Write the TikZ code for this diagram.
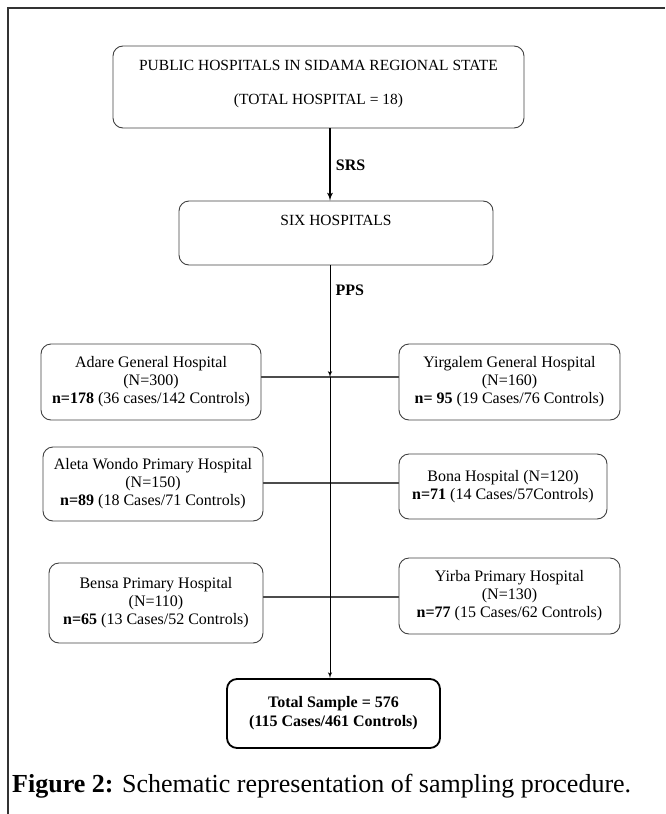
\documentclass[tikz,border=0pt]{standalone}
\usepackage{fontspec}
\setmainfont{Liberation Serif}
\usetikzlibrary{shapes,arrows,positioning}

\begin{document}
\begin{tikzpicture}[auto,>=latex',x=1pt,y=-1pt]
    \tikzstyle{block} = [draw=black!75, shape=rectangle, rounded corners=10pt, line width=0.9pt, align=center, inner sep=0pt, font=\fontsize{16}{18}\selectfont]
    \tikzstyle{method} = [font=\fontsize{16}{18}\selectfont\bfseries, inner sep=5pt]
    \tikzstyle{tie} = [draw=black!70, line width=1.3pt]
    \useasboundingbox (0,0) rectangle (665,814);
    \draw[line width=1.2pt, black!80] (8,814) -- (8,8) -- (665,8);
    %Creating Blocks and Connection Nodes
    \node [block, minimum width=411, minimum height=82, text depth=10pt, font=\fontsize{15.5}{18}\selectfont] (public) at (318.5,87) {PUBLIC HOSPITALS IN SIDAMA REGIONAL STATE\\[16pt] (TOTAL HOSPITAL = 18)};
    \node [block, minimum width=314, minimum height=64, text depth=26pt, font=\fontsize{15.5}{18}\selectfont] (six) at (336,233) {SIX HOSPITALS};
    \coordinate (spine) at (330,0);

    \node [block, minimum width=220, minimum height=76] (adare) at (151,382) {Adare General Hospital\\ (N=300)\\ \textbf{n=178} (36 cases/142 Controls)};
    \node [block, minimum width=221, minimum height=76] (yirgalem) at (509.5,382) {Yirgalem General Hospital\\ (N=160)\\ \textbf{n= 95} (19 Cases/76 Controls)};

    \node [block, minimum width=220, minimum height=74] (aleta) at (153,484) {Aleta Wondo Primary Hospital\\ (N=150)\\ \textbf{n=89} (18 Cases/71 Controls)};
    \node [block, minimum width=208, minimum height=65] (bona) at (503,486.5) {Bona Hospital (N=120)\\ \textbf{n=71} (14 Cases/57Controls)};

    \node [block, minimum width=214, minimum height=80] (bensa) at (156,603) {Bensa Primary Hospital\\ (N=110)\\ \textbf{n=65} (13 Cases/52 Controls)};
    \node [block, minimum width=221, minimum height=76] (yirba) at (509.5,596) {Yirba Primary Hospital\\ (N=130)\\ \textbf{n=77} (15 Cases/62 Controls)};

    \node [block, minimum width=213, minimum height=69, draw=black, line width=1.8pt, font=\fontsize{16}{19}\selectfont\bfseries] (total) at (333.5,713.5) {Total Sample = 576\\ (115 Cases/461 Controls)};

    \node [anchor=base west, inner sep=0pt, font=\fontsize{26}{30}\selectfont] (caption) at (12,792) {\textbf{Figure 2:} Schematic representation of sampling procedure.};
    %Conecting Blocks
    \draw[tie] (adare.east |- 0,377) -- (yirgalem.west |- 0,377);
    \draw[tie] (aleta.east |- 0,483) -- (bona.west |- 0,483);
    \draw[tie] (bensa.east |- 0,597) -- (yirba.west |- 0,597);
    \begin{scope}[line width=1pt]
        \draw[->, line width=1.7pt] (public.south -| spine) -- node[method, right, pos=0.51] {SRS} (six.north -| spine);
        \draw[->] (six.south -| spine) -- node[method, right, pos=0.22] {PPS} (0,377 -| spine);
        \draw[->] (0,377 -| spine) -- (total.north -| spine);
    \end{scope}
\end{tikzpicture}
\end{document}
